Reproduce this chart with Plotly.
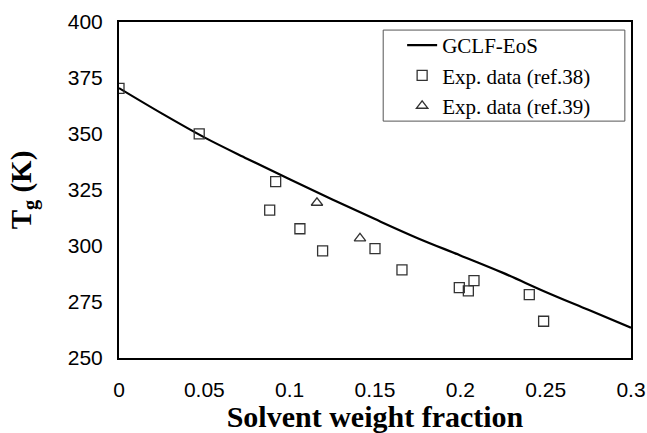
import plotly.graph_objects as go

# GCLF-EoS model curve
curve_x = [0.0, 0.025, 0.05, 0.075, 0.1, 0.125, 0.15, 0.175, 0.2, 0.225, 0.25, 0.275, 0.3]
curve_y = [370.5, 359.2, 348.5, 339.0, 329.8, 320.8, 312.0, 303.5, 295.8, 288.0, 279.5, 271.5, 263.5]

# Exp. data (ref.38)
ref38_x = [0.0, 0.047, 0.0918, 0.0883, 0.106, 0.1193, 0.150, 0.1658, 0.1994, 0.2047, 0.208, 0.2404, 0.2488]
ref38_y = [370.4, 350.1, 328.7, 316.0, 307.7, 297.8, 298.8, 289.3, 281.4, 280.0, 284.5, 278.3, 266.4]

# Exp. data (ref.39)
ref39_x = [0.116, 0.1412]
ref39_y = [319.3, 303.4]

x_ticks = [0, 0.05, 0.1, 0.15, 0.2, 0.25, 0.3]
x_ticktext = ["0", "0.05", "0.1", "0.15", "0.2", "0.25", "0.3"]
y_ticks = [250, 275, 300, 325, 350, 375, 400]

fig = go.Figure()
fig.add_trace(go.Scatter(x=curve_x, y=curve_y, mode="lines", name="GCLF-EoS",
                         line=dict(color="black", width=2.2, shape="spline")))
fig.add_trace(go.Scatter(x=ref38_x, y=ref38_y, mode="markers", name="Exp. data (ref.38)",
                         marker=dict(symbol="square-open", size=10, color="#333333",
                                     line=dict(width=1.3, color="#333333"))))
fig.add_trace(go.Scatter(x=ref39_x, y=ref39_y, mode="markers", name="Exp. data (ref.39)",
                         marker=dict(symbol="triangle-up-open", size=10, color="#333333",
                                     line=dict(width=1.3, color="#333333"))))

# legend frame drawn as a shape so it can be wider than the entries
fig.add_shape(type="rect", xref="paper", yref="paper",
              x0=0.516, x1=0.988, y0=0.705, y1=0.976,
              line=dict(color="#555555", width=1), fillcolor="white", layer="below")

fig.update_layout(
    width=647, height=433,
    margin=dict(l=119, r=16, t=22, b=75),
    paper_bgcolor="white", plot_bgcolor="white",
    showlegend=True,
    legend=dict(x=0.553, y=0.991, xanchor="left", yanchor="top",
                bgcolor="rgba(0,0,0,0)", borderwidth=0,
                font=dict(family="Liberation Serif", size=21, color="black"),
                tracegroupgap=0, itemwidth=30),
    xaxis=dict(range=[0, 0.3], tickvals=x_ticks, ticktext=x_ticktext,
               showgrid=False, zeroline=False, showline=True, mirror=True,
               linecolor="black", linewidth=2, ticks="", automargin=False,
               ticklabelstandoff=12,
               tickfont=dict(family="Liberation Sans", size=21, color="black"),
               title=dict(text="Solvent weight fraction", standoff=6,
                          font=dict(family="Liberation Serif", size=30, color="black", weight="bold"))),
    yaxis=dict(range=[250, 400], tickvals=y_ticks,
               showgrid=False, zeroline=False, showline=True, mirror=True,
               linecolor="black", linewidth=2, ticks="", automargin=False,
               ticklabelstandoff=10,
               tickfont=dict(family="Liberation Sans", size=21, color="black"),
               title=dict(text="T<sub>g</sub> (K)", standoff=28,
                          font=dict(family="Liberation Serif", size=29, color="black", weight="bold"))),
)

# remove the default page margin so the figure fills the window exactly
fig.write_html("out.html", config={"displayModeBar": False},
               post_script="document.body.style.margin='0';document.body.style.overflow='hidden';")
